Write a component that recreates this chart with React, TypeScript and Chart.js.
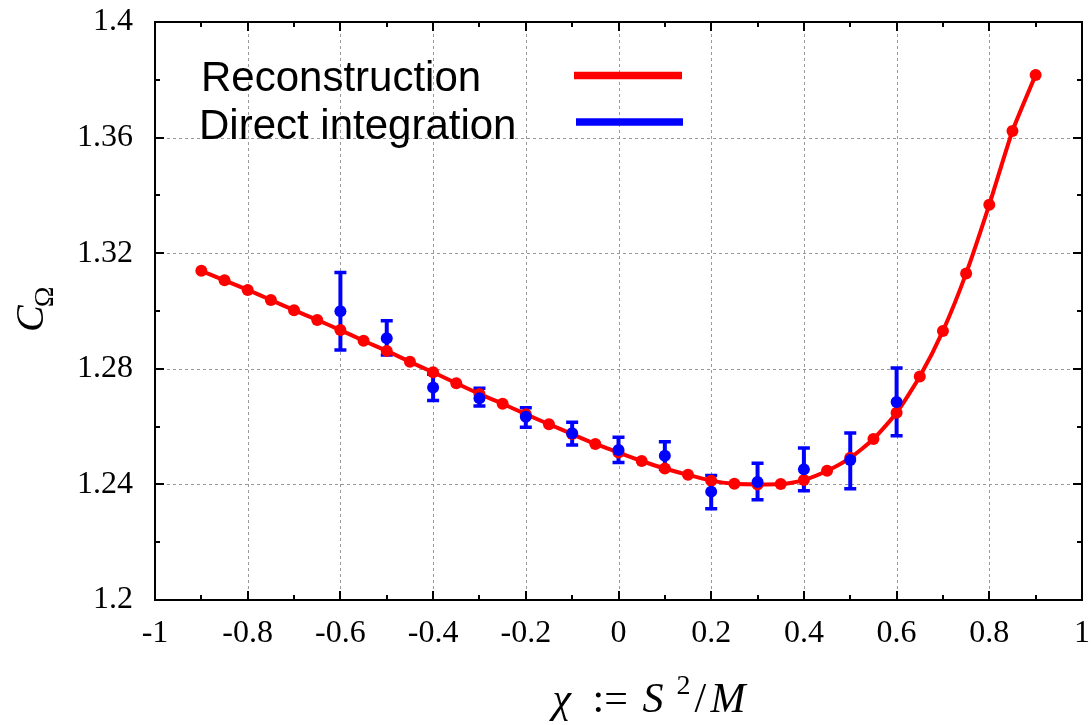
import React, { useEffect, useRef } from "react";
import { Chart, registerables } from "chart.js";

Chart.register(...registerables);

// ---- Data ----
const reconX = [
  -0.9, -0.85, -0.8, -0.75, -0.7, -0.65, -0.6, -0.55, -0.5, -0.45, -0.4, -0.35,
  -0.3, -0.25, -0.2, -0.15, -0.1, -0.05, 0, 0.05, 0.1, 0.15, 0.2, 0.25, 0.3,
  0.35, 0.4, 0.45, 0.5, 0.55, 0.6, 0.65, 0.7, 0.75, 0.8, 0.85, 0.9,
];
const reconY = [
  1.3139, 1.3106, 1.3073, 1.3038, 1.3003, 1.2969, 1.2934, 1.2897, 1.2862,
  1.2824, 1.2788, 1.275, 1.2713, 1.2679, 1.2643, 1.2608, 1.2574, 1.254, 1.251,
  1.2481, 1.2455, 1.2433, 1.2413, 1.2402, 1.24, 1.2401, 1.2415, 1.2447, 1.2492,
  1.2557, 1.2648, 1.2773, 1.2931, 1.313, 1.3368, 1.3623, 1.3817,
];

const directX = [-0.6, -0.5, -0.4, -0.3, -0.2, -0.1, 0, 0.1, 0.2, 0.3, 0.4, 0.5, 0.6];
const directY = [
  1.2999, 1.2906, 1.2735, 1.2698, 1.2634, 1.2577, 1.2519, 1.2499, 1.2375,
  1.2408, 1.2452, 1.2484, 1.2685,
];
const directHigh = [
  1.3133, 1.2966, 1.2781, 1.2733, 1.2665, 1.2615, 1.2563, 1.2548, 1.2431,
  1.2473, 1.2526, 1.2578, 1.2803,
];
const directLow = [
  1.2865, 1.2848, 1.269, 1.2671, 1.2598, 1.2536, 1.2476, 1.2452, 1.2316,
  1.2347, 1.2378, 1.2385, 1.2568,
];

const xTickValues = [-1, -0.8, -0.6, -0.4, -0.2, 0, 0.2, 0.4, 0.6, 0.8, 1];
const xTickLabels = ["-1", "-0.8", "-0.6", "-0.4", "-0.2", "0", "0.2", "0.4", "0.6", "0.8", "1"];
const xMinorValues = [-0.9, -0.7, -0.5, -0.3, -0.1, 0.1, 0.3, 0.5, 0.7, 0.9];
const yTickValues = [1.2, 1.24, 1.28, 1.32, 1.36, 1.4];
const yTickLabels = ["1.2", "1.24", "1.28", "1.32", "1.36", "1.4"];
const yMinorValues = [1.22, 1.26, 1.3, 1.34, 1.38];

const seriesNames = ["Reconstruction", "Direct integration"];
const RED = "#ff0000";
const BLUE = "#0000ff";
const SERIF = '"Liberation Serif", "Times New Roman", serif';
const SANS = '"Liberation Sans", Arial, sans-serif';

const framePlugin = {
  id: "frame",
  beforeDatasetsDraw(chart: any) {
    const { ctx, chartArea: a, scales } = chart;
    const xs = scales.x;
    const ys = scales.y;
    ctx.save();
    // grid
    ctx.strokeStyle = "#9a9a9a";
    ctx.lineWidth = 1;
    ctx.setLineDash([3, 3]);
    xTickValues.forEach((v) => {
      const px = Math.round(xs.getPixelForValue(v)) + 0.5;
      ctx.beginPath();
      ctx.moveTo(px, a.top);
      ctx.lineTo(px, a.bottom);
      ctx.stroke();
    });
    yTickValues.forEach((v) => {
      const py = Math.round(ys.getPixelForValue(v)) + 0.5;
      ctx.beginPath();
      ctx.moveTo(a.left, py);
      ctx.lineTo(a.right, py);
      ctx.stroke();
    });
    ctx.setLineDash([]);
    // error bars
    ctx.strokeStyle = BLUE;
    directX.forEach((x, i) => {
      const px = xs.getPixelForValue(x);
      const pt = ys.getPixelForValue(directHigh[i]);
      const pb = ys.getPixelForValue(directLow[i]);
      ctx.lineWidth = 4;
      ctx.beginPath();
      ctx.moveTo(px, pt);
      ctx.lineTo(px, pb);
      ctx.stroke();
      ctx.lineWidth = 3.5;
      ctx.beginPath();
      ctx.moveTo(px - 6, pt);
      ctx.lineTo(px + 6, pt);
      ctx.moveTo(px - 6, pb);
      ctx.lineTo(px + 6, pb);
      ctx.stroke();
    });
    ctx.restore();
  },
  afterDatasetsDraw(chart: any) {
    const { ctx, chartArea: a, scales } = chart;
    const xs = scales.x;
    const ys = scales.y;
    ctx.save();
    ctx.strokeStyle = "#000";
    ctx.lineWidth = 2;
    ctx.strokeRect(a.left, a.top, a.right - a.left, a.bottom - a.top);
    const tick = (vals: number[], len: number) => {
      vals.forEach((v) => {
        const px = Math.round(xs.getPixelForValue(v));
        ctx.beginPath();
        ctx.moveTo(px, a.bottom);
        ctx.lineTo(px, a.bottom - len);
        ctx.moveTo(px, a.top);
        ctx.lineTo(px, a.top + len);
        ctx.stroke();
      });
    };
    const ytick = (vals: number[], len: number) => {
      vals.forEach((v) => {
        const py = Math.round(ys.getPixelForValue(v));
        ctx.beginPath();
        ctx.moveTo(a.left, py);
        ctx.lineTo(a.left + len, py);
        ctx.moveTo(a.right, py);
        ctx.lineTo(a.right - len, py);
        ctx.stroke();
      });
    };
    tick(xTickValues, 9);
    tick(xMinorValues, 5);
    ytick(yTickValues, 9);
    ytick(yMinorValues, 5);

    // legend
    ctx.fillStyle = "#000";
    ctx.font = `42px ${SANS}`;
    ctx.textBaseline = "alphabetic";
    ctx.textAlign = "left";
    ctx.fillText(seriesNames[0], 201, 91);
    ctx.fillText(seriesNames[1], 199, 139);
    ctx.lineWidth = 7.5;
    ctx.strokeStyle = RED;
    ctx.beginPath();
    ctx.moveTo(574, 75.5);
    ctx.lineTo(682, 75.5);
    ctx.stroke();
    ctx.strokeStyle = BLUE;
    ctx.beginPath();
    ctx.moveTo(576, 122);
    ctx.lineTo(683, 122);
    ctx.stroke();

    // x axis title: χ := S²/M
    const cxm = (a.left + a.right) / 2;
    const parts: [string, string, number, number][] = [
      ["χ", `italic 42px ${SERIF}`, -66, 0],
      [":=", `42px ${SERIF}`, -26, 0],
      ["S", `italic 42px ${SERIF}`, 24, 0],
      ["2", `28px ${SERIF}`, 58, -18],
      ["/", `42px ${SERIF}`, 76, 0],
      ["M", `italic 42px ${SERIF}`, 92, 0],
    ];
    parts.forEach(([t, f, dx, dy]) => {
      ctx.font = f;
      ctx.fillText(t, cxm + dx, 712 + dy);
    });

    // y axis title: C_Ω rotated
    ctx.translate(43, 332);
    ctx.rotate(-Math.PI / 2);
    ctx.font = `italic 40px ${SERIF}`;
    ctx.fillText("C", 0, 0);
    const cw = ctx.measureText("C").width;
    ctx.font = `28px ${SERIF}`;
    ctx.fillText("Ω", cw - 2, 10);
    ctx.restore();
  },
};

export default function App() {
  const ref = useRef<HTMLCanvasElement | null>(null);
  useEffect(() => {
    document.body.style.margin = "0";
    if (!ref.current) return;
    const chart = new Chart(ref.current, {
      type: "scatter",
      data: {
        datasets: [
          {
            label: seriesNames[1],
            data: directX.map((x, i) => ({ x, y: directY[i] })),
            showLine: false,
            pointRadius: 6,
            pointBackgroundColor: BLUE,
            pointBorderColor: BLUE,
            pointBorderWidth: 0,
          },
          {
            label: seriesNames[0],
            data: reconX.map((x, i) => ({ x, y: reconY[i] })),
            showLine: true,
            borderColor: RED,
            borderWidth: 4,
            tension: 0.2,
            pointRadius: 6,
            pointBackgroundColor: RED,
            pointBorderColor: RED,
            pointBorderWidth: 0,
          },
        ],
      },
      options: {
        responsive: false,
        animation: false,
        devicePixelRatio: 1,
        layout: { padding: { top: 22, right: 9, left: 0, bottom: 0 } },
        plugins: { legend: { display: false }, tooltip: { enabled: false } },
        scales: {
          x: {
            type: "linear",
            min: -1,
            max: 1,
            afterFit: (s: any) => {
              s.height = 125;
              s.paddingLeft = 0;
              s.paddingRight = 0;
            },
            afterBuildTicks: (s: any) => {
              s.ticks = xTickValues.map((v) => ({ value: v }));
            },
            grid: { display: false, drawTicks: false },
            border: { display: false },
            ticks: {
              autoSkip: false,
              maxRotation: 0,
              padding: 14,
              color: "#000",
              font: { family: SERIF, size: 32 },
              callback: (_v: any, i: number) => xTickLabels[i],
            },
          },
          y: {
            type: "linear",
            min: 1.2,
            max: 1.4,
            afterFit: (s: any) => {
              s.width = 155;
              s.paddingTop = 0;
              s.paddingBottom = 0;
            },
            afterBuildTicks: (s: any) => {
              s.ticks = yTickValues.map((v) => ({ value: v }));
            },
            grid: { display: false, drawTicks: false },
            border: { display: false },
            ticks: {
              autoSkip: false,
              padding: 22,
              color: "#000",
              font: { family: SERIF, size: 32 },
              callback: (_v: any, i: number) => yTickLabels[i],
            },
          },
        },
      },
      plugins: [framePlugin],
    } as any);
    return () => chart.destroy();
  }, []);
  return (
    <div style={{ width: 1091, height: 725, background: "#fff" }}>
      <canvas ref={ref} width={1091} height={725} style={{ display: "block" }} />
    </div>
  );
}
